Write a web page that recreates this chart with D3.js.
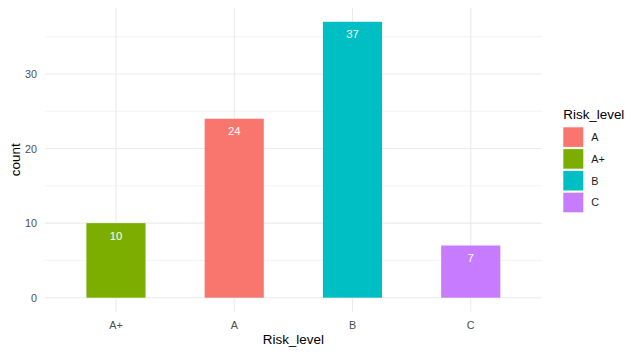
<!DOCTYPE html>
<html><head><meta charset="utf-8">
<script src="https://cdn.jsdelivr.net/npm/d3@7"></script>
<style>body{margin:0;background:#fff}svg{display:block}text{font-family:"Liberation Sans",Arial,sans-serif}</style>
</head><body><svg id="c" width="640" height="355"></svg>
<script>
const categories = ["A+", "A", "B", "C"];
const counts = [10, 24, 37, 7];
const legendLevels = ["A", "A+", "B", "C"];
const legendColors = ["#F8766D", "#7CAE00", "#00BFC4", "#C77CFF"];
const yTicks = [0, 10, 20, 30];
const yMinorTicks = [5, 15, 25, 35];

const svg = d3.select("#c");
const L = 45, R = 541.7, T = 8, B = 311.5;
const maxV = d3.max(counts);
const ex = maxV * 0.05;
const y = d3.scaleLinear().domain([-ex, maxV + ex]).range([B, T]);
const x = d3.scaleBand().domain(categories).range([L, R]).paddingInner(0.5).paddingOuter(0.35);
const color = d3.scaleOrdinal().domain(legendLevels).range(legendColors);

const grid = svg.append("g");
grid.selectAll(".mn").data(yMinorTicks).join("line")
  .attr("x1", L).attr("x2", R).attr("y1", d => y(d)).attr("y2", d => y(d))
  .attr("stroke", "#EBEBEB").attr("stroke-width", 0.6);
grid.selectAll(".mj").data(yTicks).join("line")
  .attr("x1", L).attr("x2", R).attr("y1", d => y(d)).attr("y2", d => y(d))
  .attr("stroke", "#EBEBEB").attr("stroke-width", 1.1);
grid.selectAll(".vx").data(categories).join("line")
  .attr("x1", d => x(d) + x.bandwidth() / 2).attr("x2", d => x(d) + x.bandwidth() / 2)
  .attr("y1", T).attr("y2", B)
  .attr("stroke", "#EBEBEB").attr("stroke-width", 1.1);

const data = categories.map((c, i) => ({ c, v: counts[i] }));
svg.append("g").selectAll("rect").data(data).join("rect")
  .attr("x", d => x(d.c)).attr("width", x.bandwidth())
  .attr("y", d => y(d.v)).attr("height", d => y(0) - y(d.v))
  .attr("fill", d => color(d.c));
svg.append("g").selectAll("text").data(data).join("text")
  .attr("x", d => x(d.c) + x.bandwidth() / 2).attr("y", d => y(d.v) + 16.7)
  .attr("text-anchor", "middle").attr("fill", "#fff").attr("font-size", 11.3)
  .text(d => d.v);

// y axis labels
const ya = d3.axisLeft(y).tickValues(yTicks).tickSize(0).tickPadding(8);
const yg = svg.append("g").attr("transform", `translate(${L},0)`).call(ya);
yg.select(".domain").remove();
yg.selectAll("text").attr("fill", "#4D4D4D").attr("font-size", 10.8).attr("font-family", "Liberation Sans, Arial, sans-serif");

const xa = d3.axisBottom(x).tickSize(0).tickPadding(10);
const xg = svg.append("g").attr("transform", `translate(0,${B})`).call(xa);
xg.select(".domain").remove();
xg.selectAll("text").attr("fill", "#4D4D4D").attr("font-size", 10.8).attr("font-family", "Liberation Sans, Arial, sans-serif");

svg.append("text").attr("x", (L + R) / 2).attr("y", 344).attr("text-anchor", "middle")
  .attr("font-size", 13.4).attr("fill", "#000").text("Risk_level");
svg.append("text").attr("transform", `translate(19.5,${(T + B) / 2}) rotate(-90)`).attr("text-anchor", "middle")
  .attr("font-size", 13.4).attr("fill", "#000").text("count");

// legend
const lg = svg.append("g").attr("transform", "translate(563.3,0)");
lg.append("text").attr("x", 0).attr("y", 118.5).attr("font-size", 13.4).attr("fill", "#000").text("Risk_level");
const items = lg.selectAll(".it").data(legendLevels).join("g")
  .attr("transform", (d, i) => `translate(0,${127.3 + i * 21.8})`);
items.append("rect").attr("width", 20).attr("height", 19.6).attr("fill", d => color(d));
items.append("text").attr("x", 28).attr("y", 9.8).attr("dy", "0.36em")
  .attr("font-size", 10.8).attr("fill", "#1a1a1a").text(d => d);
</script></body></html>
